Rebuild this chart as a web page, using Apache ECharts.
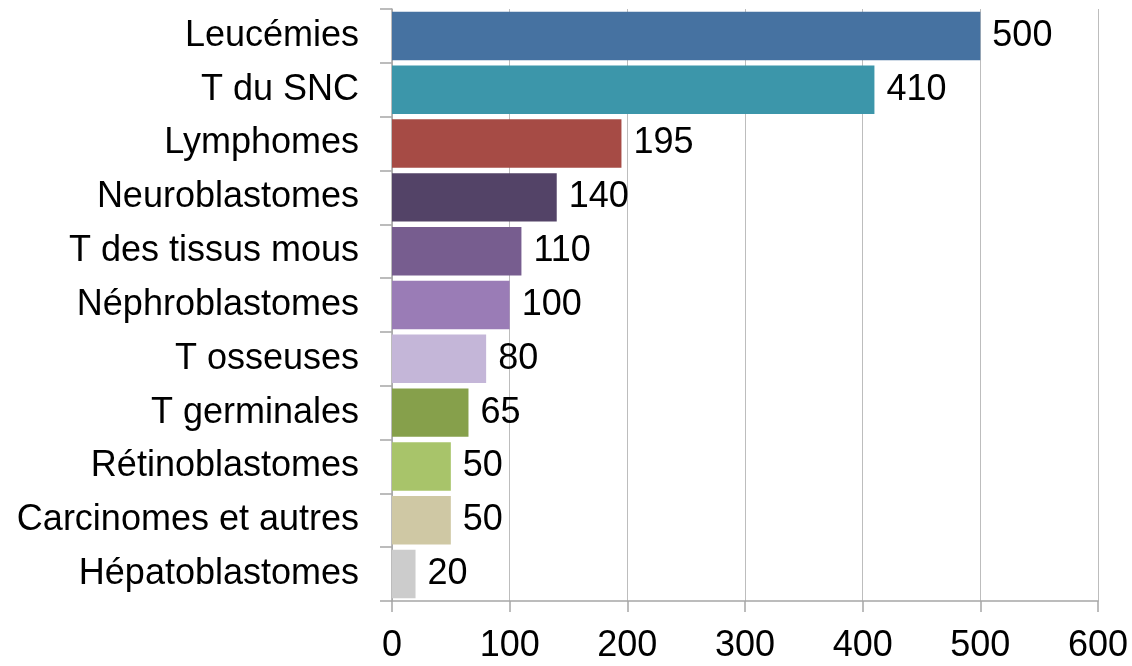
<!DOCTYPE html>
<html>
<head>
<meta charset="utf-8">
<script src="https://cdn.jsdelivr.net/npm/echarts@6/dist/echarts.min.js"></script>
<style>
  html, body { margin: 0; padding: 0; background: #fff; }
  #chart { width: 1132px; height: 666px; }
</style>
</head>
<body>
<div id="chart"></div>
<script>
// categories, top to bottom
const categories = ['Leucémies', 'T du SNC', 'Lymphomes', 'Neuroblastomes', 'T des tissus mous',
  'Néphroblastomes', 'T osseuses', 'T germinales', 'Rétinoblastomes', 'Carcinomes et autres', 'Hépatoblastomes'];
const values = [500, 410, 195, 140, 110, 100, 80, 65, 50, 50, 20];
const barColors = ['#4672A1', '#3C96AA', '#A64B45', '#534367', '#775D8F', '#9A7CB6',
  '#C4B6D8', '#86A04B', '#A8C46A', '#CFC8A4', '#CCCCCC'];
const xTicks = [0, 100, 200, 300, 400, 500, 600];

let chartDom = document.getElementById('chart');
let myChart = echarts.init(chartDom);
let option = {
  animation: false,
  textStyle: { fontFamily: 'Liberation Sans, Arial, sans-serif' },
  grid: { left: 392, right: 34, top: 9, bottom: 65 },
  xAxis: {
    type: 'value',
    min: xTicks[0],
    max: xTicks[xTicks.length - 1],
    interval: 100,
    axisLine: { show: true, lineStyle: { color: '#A6A6A6', width: 1.5 } },
    axisTick: { show: true, length: 11, lineStyle: { color: '#A6A6A6', width: 1.5 } },
    splitLine: { show: true, lineStyle: { color: '#BDBDBD', width: 1 } },
    axisLabel: { color: '#000', fontSize: 36, margin: 27 }
  },
  yAxis: {
    type: 'category',
    inverse: true,
    data: categories,
    axisLine: { show: true, lineStyle: { color: '#A6A6A6', width: 1.5 } },
    axisTick: { show: true, length: 12, lineStyle: { color: '#A6A6A6', width: 1.5 } },
    axisLabel: { color: '#000', fontSize: 36, margin: 33, padding: [10, 0, 0, 0] }
  },
  series: [
    {
      type: 'bar',
      data: values.map((v, i) => ({ value: v, itemStyle: { color: barColors[i] } })),
      barCategoryGap: '10%',
      label: {
        show: true,
        position: 'right',
        distance: 12,
        color: '#000',
        fontSize: 36,
        padding: [10, 0, 0, 0]
      }
    }
  ]
};
myChart.setOption(option);
</script>
</body>
</html>
